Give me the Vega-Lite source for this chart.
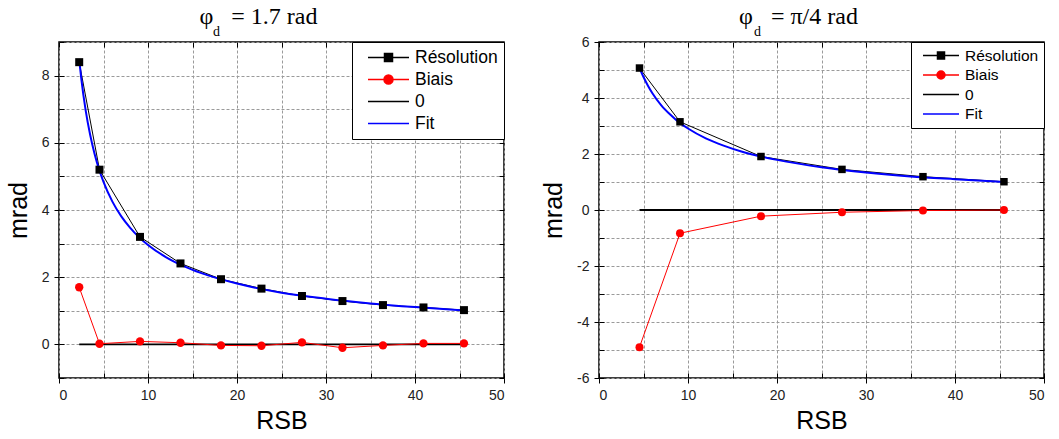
{
  "$schema": "https://vega.github.io/schema/vega-lite/v6.json",
  "padding": {"left": 5, "top": 4, "right": 0, "bottom": 0},
  "spacing": 34,
  "resolve": {"scale": {"stroke": "independent"}, "legend": {"stroke": "independent"}},
  "datasets": {
    "L": [
      {"s": "Résolution", "x": 2.27, "y": 8.40}, {"s": "Résolution", "x": 4.55, "y": 5.20}, {"s": "Résolution", "x": 9.1, "y": 3.20}, {"s": "Résolution", "x": 13.65, "y": 2.41}, {"s": "Résolution", "x": 18.2, "y": 1.94}, {"s": "Résolution", "x": 22.75, "y": 1.66}, {"s": "Résolution", "x": 27.3, "y": 1.44}, {"s": "Résolution", "x": 31.85, "y": 1.29}, {"s": "Résolution", "x": 36.4, "y": 1.17}, {"s": "Résolution", "x": 40.95, "y": 1.10}, {"s": "Résolution", "x": 45.5, "y": 1.02},
      {"s": "Biais", "x": 2.27, "y": 1.70}, {"s": "Biais", "x": 4.55, "y": 0.02}, {"s": "Biais", "x": 9.1, "y": 0.09}, {"s": "Biais", "x": 13.65, "y": 0.05}, {"s": "Biais", "x": 18.2, "y": -0.03}, {"s": "Biais", "x": 22.75, "y": -0.04}, {"s": "Biais", "x": 27.3, "y": 0.06}, {"s": "Biais", "x": 31.85, "y": -0.10}, {"s": "Biais", "x": 36.4, "y": -0.03}, {"s": "Biais", "x": 40.95, "y": 0.03}, {"s": "Biais", "x": 45.5, "y": 0.03},
      {"s": "0", "x": 2.27, "y": 0}, {"s": "0", "x": 45.5, "y": 0},
      {"s": "Fit", "x": 2.3, "y": 8.40}, {"s": "Fit", "x": 2.5, "y": 7.92}, {"s": "Fit", "x": 3, "y": 6.96}, {"s": "Fit", "x": 3.5, "y": 6.24}, {"s": "Fit", "x": 4, "y": 5.67}, {"s": "Fit", "x": 4.55, "y": 5.17}, {"s": "Fit", "x": 5, "y": 4.84}, {"s": "Fit", "x": 6, "y": 4.25}, {"s": "Fit", "x": 7, "y": 3.81}, {"s": "Fit", "x": 8, "y": 3.47}, {"s": "Fit", "x": 9, "y": 3.19}, {"s": "Fit", "x": 10, "y": 2.96}, {"s": "Fit", "x": 12, "y": 2.60}, {"s": "Fit", "x": 14, "y": 2.33}, {"s": "Fit", "x": 16, "y": 2.12}, {"s": "Fit", "x": 20, "y": 1.81}, {"s": "Fit", "x": 25, "y": 1.54}, {"s": "Fit", "x": 30, "y": 1.36}, {"s": "Fit", "x": 35, "y": 1.22}, {"s": "Fit", "x": 40, "y": 1.11}, {"s": "Fit", "x": 45.5, "y": 1.01}
    ],
    "R": [
      {"s": "Résolution", "x": 4.55, "y": 5.07}, {"s": "Résolution", "x": 9.1, "y": 3.15}, {"s": "Résolution", "x": 18.2, "y": 1.91}, {"s": "Résolution", "x": 27.3, "y": 1.45}, {"s": "Résolution", "x": 36.4, "y": 1.19}, {"s": "Résolution", "x": 45.5, "y": 1.01},
      {"s": "Biais", "x": 4.55, "y": -4.90}, {"s": "Biais", "x": 9.1, "y": -0.83}, {"s": "Biais", "x": 18.2, "y": -0.22}, {"s": "Biais", "x": 27.3, "y": -0.08}, {"s": "Biais", "x": 36.4, "y": -0.02}, {"s": "Biais", "x": 45.5, "y": 0.0},
      {"s": "0", "x": 4.55, "y": 0}, {"s": "0", "x": 45.5, "y": 0},
      {"s": "Fit", "x": 4.55, "y": 5.07}, {"s": "Fit", "x": 5, "y": 4.75}, {"s": "Fit", "x": 5.5, "y": 4.44}, {"s": "Fit", "x": 6, "y": 4.17}, {"s": "Fit", "x": 7, "y": 3.74}, {"s": "Fit", "x": 8, "y": 3.41}, {"s": "Fit", "x": 9, "y": 3.13}, {"s": "Fit", "x": 10, "y": 2.91}, {"s": "Fit", "x": 12, "y": 2.56}, {"s": "Fit", "x": 14, "y": 2.30}, {"s": "Fit", "x": 16, "y": 2.09}, {"s": "Fit", "x": 18.2, "y": 1.91}, {"s": "Fit", "x": 20, "y": 1.79}, {"s": "Fit", "x": 25, "y": 1.53}, {"s": "Fit", "x": 30, "y": 1.34}, {"s": "Fit", "x": 35, "y": 1.20}, {"s": "Fit", "x": 40, "y": 1.10}, {"s": "Fit", "x": 45.5, "y": 1.00}
    ]
  },
  "hconcat": [
    {
      "width": 445, "height": 336,
      "data": {"name": "L"},
      "title": {"text": "φ\u00a0\u00a0\u00a0= 1.7 rad", "dx": -23},
      "resolve": {"axis": {"x": "independent", "y": "independent"}},
      "layer": [
        {
          "transform": [{"filter": "datum.s === '0'"}],
          "mark": {"type": "line", "strokeWidth": 1.8},
          "encoding": {
            "x": {"field": "x", "type": "quantitative", "scale": {"domain": [0, 50], "nice": false, "zero": false},
                  "axis": {"orient": "top", "values": [0,5,10,15,20,25,30,35,40,45,50], "labels": false, "tickSize": -5, "grid": true,
                           "title": "d", "titleFont": "Liberation Serif", "titleFontSize": 14, "titleFontWeight": "normal", "titleX": 157, "titleY": -7, "titleAlign": "center", "titleBaseline": "alphabetic", "titleAngle": 0}},
            "y": {"field": "y", "type": "quantitative", "scale": {"domain": [-1, 9], "nice": false, "zero": false},
                  "axis": {"orient": "right", "values": [-1,0,1,2,3,4,5,6,7,8,9], "labels": false, "tickSize": -5, "grid": true, "title": null}},
            "stroke": {"field": "s", "type": "nominal", "scale": {"domain": ["Résolution", "Biais", "0", "Fit"], "range": ["#000000", "#ff0000", "#000000", "#0000ff"]},
                       "legend": {"title": null, "orient": "top-right", "offset": 0, "padding": 6, "strokeColor": "black", "fillColor": "white", "labelFont": "Liberation Sans", "labelFontSize": 17.5, "labelColor": "black", "labelOffset": 5, "rowPadding": 3, "clipHeight": 19, "symbolSize": 2500, "symbolStrokeWidth": 1.5,
                                  "encode": {"symbols": {"update": {
                                    "shape": {"signal": "datum.value === 'Résolution' ? 'M-0.64,0H1M0.02,-0.16H0.34V0.16H0.02Z' : datum.value === 'Biais' ? 'M-0.64,0H1M0,0A0.18,0.18 0 1 0 0.36,0A0.18,0.18 0 1 0 0,0Z' : 'M-0.64,0H1'"},
                                    "fill": {"signal": "datum.value === 'Biais' ? '#ff0000' : datum.value === 'Fit' ? '#0000ff' : '#000000'"},
                                    "stroke": {"signal": "datum.value === 'Biais' ? '#ff0000' : datum.value === 'Fit' ? '#0000ff' : '#000000'"},
                                    "opacity": {"value": 1}
                                  }}}}}
          }
        },
        {
          "transform": [{"filter": "datum.s === 'Résolution' || datum.s === 'Biais'"}],
          "mark": {"type": "line", "strokeWidth": 1},
          "encoding": {
            "x": {"field": "x", "type": "quantitative", "scale": {"domain": [0, 50], "nice": false, "zero": false},
                  "axis": {"orient": "bottom", "values": [0,5,10,15,20,25,30,35,40,45,50], "labels": false, "tickSize": -5, "grid": false, "title": null}},
            "y": {"field": "y", "type": "quantitative", "scale": {"domain": [-1, 9], "nice": false, "zero": false},
                  "axis": {"orient": "left", "values": [-1,0,1,2,3,4,5,6,7,8,9], "labels": false, "tickSize": -5, "grid": false, "title": null}},
            "stroke": {"field": "s", "type": "nominal"}
          }
        },
        {
          "transform": [{"filter": "datum.s === 'Fit'"}],
          "mark": {"type": "line", "strokeWidth": 2, "interpolate": "monotone"},
          "encoding": {
            "x": {"field": "x", "type": "quantitative", "scale": {"domain": [0, 50], "nice": false, "zero": false},
                  "axis": {"orient": "bottom", "values": [0,10,20,30,40,50], "tickSize": 5, "labelPadding": 5, "title": "RSB", "titlePadding": 6}},
            "y": {"field": "y", "type": "quantitative", "scale": {"domain": [-1, 9], "nice": false, "zero": false},
                  "axis": {"orient": "left", "values": [0,2,4,6,8], "tickSize": 5, "labelPadding": 5, "title": "mrad", "titlePadding": 10}},
            "stroke": {"field": "s", "type": "nominal"}
          }
        },
        {
          "transform": [{"filter": "datum.s === 'Résolution'"}],
          "mark": {"type": "point", "shape": "square", "filled": true, "size": 64, "color": "#000000", "opacity": 1},
          "encoding": {
            "x": {"field": "x", "type": "quantitative", "axis": null},
            "y": {"field": "y", "type": "quantitative", "axis": null}
          }
        },
        {
          "transform": [{"filter": "datum.s === 'Biais'"}],
          "mark": {"type": "point", "shape": "circle", "filled": true, "size": 70, "color": "#ff0000", "opacity": 1},
          "encoding": {
            "x": {"field": "x", "type": "quantitative", "axis": null},
            "y": {"field": "y", "type": "quantitative", "axis": null}
          }
        }
      ]
    },
    {
      "width": 445, "height": 336,
      "data": {"name": "R"},
      "title": {"text": "φ\u00a0\u00a0\u00a0= π/4 rad", "dx": -23},
      "resolve": {"axis": {"x": "independent", "y": "independent"}},
      "layer": [
        {
          "transform": [{"filter": "datum.s === '0'"}],
          "mark": {"type": "line", "strokeWidth": 1.8},
          "encoding": {
            "x": {"field": "x", "type": "quantitative", "scale": {"domain": [0, 50], "nice": false, "zero": false},
                  "axis": {"orient": "top", "values": [0,5,10,15,20,25,30,35,40,45,50], "labels": false, "tickSize": -5, "grid": true,
                           "title": "d", "titleFont": "Liberation Serif", "titleFontSize": 14, "titleFontWeight": "normal", "titleX": 158, "titleY": -7, "titleAlign": "center", "titleBaseline": "alphabetic", "titleAngle": 0}},
            "y": {"field": "y", "type": "quantitative", "scale": {"domain": [-6, 6], "nice": false, "zero": false},
                  "axis": {"orient": "right", "values": [-6,-5,-4,-3,-2,-1,0,1,2,3,4,5,6], "labels": false, "tickSize": -5, "grid": true, "title": null}},
            "stroke": {"field": "s", "type": "nominal", "scale": {"domain": ["Résolution", "Biais", "0", "Fit"], "range": ["#000000", "#ff0000", "#000000", "#0000ff"]},
                       "legend": {"title": null, "orient": "top-right", "offset": 0, "padding": 5, "strokeColor": "black", "fillColor": "white", "labelFont": "Liberation Sans", "labelFontSize": 15.5, "labelColor": "black", "labelOffset": 5, "rowPadding": 2.5, "clipHeight": 17, "symbolSize": 1764, "symbolStrokeWidth": 1.5,
                                  "encode": {"symbols": {"update": {
                                    "shape": {"signal": "datum.value === 'Résolution' ? 'M-0.714,0H1M-0.024,-0.167H0.31V0.167H-0.024Z' : datum.value === 'Biais' ? 'M-0.714,0H1M-0.047,0A0.19,0.19 0 1 0 0.333,0A0.19,0.19 0 1 0 -0.047,0Z' : 'M-0.714,0H1'"},
                                    "fill": {"signal": "datum.value === 'Biais' ? '#ff0000' : datum.value === 'Fit' ? '#0000ff' : '#000000'"},
                                    "stroke": {"signal": "datum.value === 'Biais' ? '#ff0000' : datum.value === 'Fit' ? '#0000ff' : '#000000'"},
                                    "opacity": {"value": 1}
                                  }}}}}
          }
        },
        {
          "transform": [{"filter": "datum.s === 'Résolution' || datum.s === 'Biais'"}],
          "mark": {"type": "line", "strokeWidth": 1},
          "encoding": {
            "x": {"field": "x", "type": "quantitative", "scale": {"domain": [0, 50], "nice": false, "zero": false},
                  "axis": {"orient": "bottom", "values": [0,5,10,15,20,25,30,35,40,45,50], "labels": false, "tickSize": -5, "grid": false, "title": null}},
            "y": {"field": "y", "type": "quantitative", "scale": {"domain": [-6, 6], "nice": false, "zero": false},
                  "axis": {"orient": "left", "values": [-6,-5,-4,-3,-2,-1,0,1,2,3,4,5,6], "labels": false, "tickSize": -5, "grid": false, "title": null}},
            "stroke": {"field": "s", "type": "nominal"}
          }
        },
        {
          "transform": [{"filter": "datum.s === 'Fit'"}],
          "mark": {"type": "line", "strokeWidth": 2, "interpolate": "monotone"},
          "encoding": {
            "x": {"field": "x", "type": "quantitative", "scale": {"domain": [0, 50], "nice": false, "zero": false},
                  "axis": {"orient": "bottom", "values": [0,10,20,30,40,50], "tickSize": 5, "labelPadding": 5, "title": "RSB", "titlePadding": 6}},
            "y": {"field": "y", "type": "quantitative", "scale": {"domain": [-6, 6], "nice": false, "zero": false},
                  "axis": {"orient": "left", "values": [-6,-4,-2,0,2,4,6], "tickSize": 5, "labelPadding": 5, "title": "mrad", "titlePadding": 10, "labelExpr": "'' + datum.value"}},
            "stroke": {"field": "s", "type": "nominal"}
          }
        },
        {
          "transform": [{"filter": "datum.s === 'Résolution'"}],
          "mark": {"type": "point", "shape": "square", "filled": true, "size": 56, "color": "#000000", "opacity": 1},
          "encoding": {
            "x": {"field": "x", "type": "quantitative", "axis": null},
            "y": {"field": "y", "type": "quantitative", "axis": null}
          }
        },
        {
          "transform": [{"filter": "datum.s === 'Biais'"}],
          "mark": {"type": "point", "shape": "circle", "filled": true, "size": 64, "color": "#ff0000", "opacity": 1},
          "encoding": {
            "x": {"field": "x", "type": "quantitative", "axis": null},
            "y": {"field": "y", "type": "quantitative", "axis": null}
          }
        }
      ]
    }
  ],
  "config": {
    "view": {"stroke": "black", "strokeWidth": 1.5},
    "axis": {"labelFont": "Liberation Sans", "labelFontSize": 14, "labelColor": "#222222", "titleFont": "Liberation Sans", "titleFontSize": 25, "titleFontWeight": "normal", "titleColor": "black", "tickColor": "black", "tickWidth": 1, "domain": false, "grid": false, "gridColor": "#9a9a9a", "gridDash": [3, 2], "gridWidth": 1},
    "title": {"font": "Liberation Serif", "fontSize": 24, "fontWeight": "normal", "color": "black", "anchor": "middle", "offset": -5}
  }
}
